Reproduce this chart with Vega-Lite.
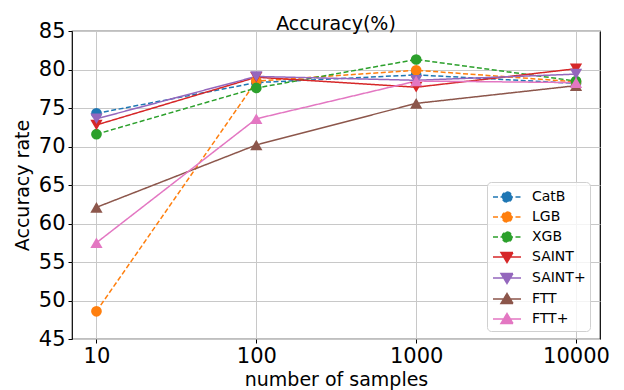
{
  "$schema": "https://vega.github.io/schema/vega-lite/v6.json",
  "autosize": {"type": "none"},
  "padding": {"left": 72, "top": 31, "right": 24, "bottom": 51},
  "width": 528,
  "height": 308,
  "title": {"text": "Accuracy(%)", "fontSize": 19, "fontWeight": "normal", "font": "DejaVu Sans", "color": "black", "offset": -14, "frame": "group"},
  "data": {"values": [
    {"model": "CatB", "n": 10, "acc": 74.3}, {"model": "CatB", "n": 100, "acc": 78.3}, {"model": "CatB", "n": 1000, "acc": 79.3}, {"model": "CatB", "n": 10000, "acc": 78.2},
    {"model": "LGB", "n": 10, "acc": 48.6}, {"model": "LGB", "n": 100, "acc": 78.5}, {"model": "LGB", "n": 1000, "acc": 79.9}, {"model": "LGB", "n": 10000, "acc": 78.4},
    {"model": "XGB", "n": 10, "acc": 71.6}, {"model": "XGB", "n": 100, "acc": 77.6}, {"model": "XGB", "n": 1000, "acc": 81.3}, {"model": "XGB", "n": 10000, "acc": 78.5},
    {"model": "SAINT", "n": 10, "acc": 72.8}, {"model": "SAINT", "n": 100, "acc": 79.0}, {"model": "SAINT", "n": 1000, "acc": 77.7}, {"model": "SAINT", "n": 10000, "acc": 80.1},
    {"model": "SAINT+", "n": 10, "acc": 73.6}, {"model": "SAINT+", "n": 100, "acc": 79.1}, {"model": "SAINT+", "n": 1000, "acc": 78.6}, {"model": "SAINT+", "n": 10000, "acc": 79.4},
    {"model": "FTT", "n": 10, "acc": 62.1}, {"model": "FTT", "n": 100, "acc": 70.2}, {"model": "FTT", "n": 1000, "acc": 75.6}, {"model": "FTT", "n": 10000, "acc": 77.9},
    {"model": "FTT+", "n": 10, "acc": 57.5}, {"model": "FTT+", "n": 100, "acc": 73.6}, {"model": "FTT+", "n": 1000, "acc": 78.5}, {"model": "FTT+", "n": 10000, "acc": 78.3}
  ]},
  "encoding": {
    "x": {"field": "n", "type": "quantitative",
      "scale": {"type": "log", "domain": [7.03, 14125], "nice": false},
      "axis": {"values": [10, 100, 1000, 10000], "format": "d", "title": "number of samples", "labelFontSize": 21, "titleFontSize": 19, "labelPadding": 2, "titlePadding": 4, "labelFlush": false}},
    "y": {"field": "acc", "type": "quantitative",
      "scale": {"domain": [45, 85], "nice": false, "zero": false},
      "axis": {"values": [45, 50, 55, 60, 65, 70, 75, 80, 85], "title": "Accuracy rate", "labelFontSize": 21, "titleFontSize": 19, "labelPadding": 3, "titlePadding": 6}},
    "color": {"field": "model", "type": "nominal",
      "scale": {"domain": ["CatB", "LGB", "XGB", "SAINT", "SAINT+", "FTT", "FTT+"],
                "range": ["#1f77b4", "#ff7f0e", "#2ca02c", "#d62728", "#9467bd", "#8c564b", "#e377c2"]},
      "legend": {
        "title": null, "orient": "none", "legendX": 415, "legendY": 151,
        "labelFontSize": 14, "labelFont": "DejaVu Sans", "labelColor": "black",
        "symbolSize": 400, "rowPadding": 1, "padding": 4, "symbolOffset": 5, "labelOffset": 14,
        "fillColor": "rgba(255,255,255,0.8)", "strokeColor": "#d0d0d0", "cornerRadius": 4,
        "encode": {"symbols": {"update": {
          "shape": {"signal": "(datum.value === 'CatB' || datum.value === 'LGB' || datum.value === 'XGB') ? 'M-1.4,0H1.4M0.5,0A0.5,0.5 0 1,1 -0.5,0A0.5,0.5 0 1,1 0.5,0Z' : ((datum.value === 'SAINT' || datum.value === 'SAINT+') ? 'M-1.4,0H1.4M-0.6,-0.45L0.6,-0.45L0,0.55Z' : 'M-1.4,0H1.4M-0.6,0.45L0.6,0.45L0,-0.55Z')"},
          "size": {"value": 400},
          "fill": {"signal": "scale('color', datum.value)"},
          "stroke": {"signal": "scale('color', datum.value)"},
          "strokeWidth": {"value": 1.5},
          "strokeDash": {"signal": "(datum.value === 'CatB' || datum.value === 'LGB' || datum.value === 'XGB') ? [5, 2.5] : [1, 0]"},
          "opacity": {"value": 1},
          "fillOpacity": {"value": 1},
          "strokeOpacity": {"value": 1}
        }}}
      }
    }
  },
  "layer": [
    {
      "mark": {"type": "line", "strokeWidth": 1.5},
      "encoding": {
        "strokeDash": {"field": "model", "type": "nominal", "legend": null,
          "scale": {"domain": ["CatB", "LGB", "XGB", "SAINT", "SAINT+", "FTT", "FTT+"],
                    "range": [[5, 2.5], [5, 2.5], [5, 2.5], [1, 0], [1, 0], [1, 0], [1, 0]]}}
      }
    },
    {
      "transform": [{"filter": {"field": "model", "oneOf": ["CatB", "LGB", "XGB"]}}],
      "mark": {"type": "point", "shape": "circle", "filled": true, "opacity": 1, "size": 115}
    },
    {
      "transform": [{"filter": {"field": "model", "oneOf": ["SAINT", "SAINT+"]}}],
      "mark": {"type": "point", "shape": "triangle-down", "filled": true, "opacity": 1, "size": 150}
    },
    {
      "transform": [{"filter": {"field": "model", "oneOf": ["FTT", "FTT+"]}}],
      "mark": {"type": "point", "shape": "triangle-up", "filled": true, "opacity": 1, "size": 150}
    }
  ],
  "config": {
    "font": "DejaVu Sans",
    "view": {"stroke": "black", "strokeWidth": 1.2},
    "axis": {
      "domain": false, "grid": true, "gridColor": "#c8c8c8", "gridWidth": 1,
      "tickColor": "black", "tickSize": 4, "tickWidth": 1,
      "labelColor": "black", "titleColor": "black", "titleFontWeight": "normal",
      "labelFont": "DejaVu Sans", "titleFont": "DejaVu Sans"
    }
  }
}
